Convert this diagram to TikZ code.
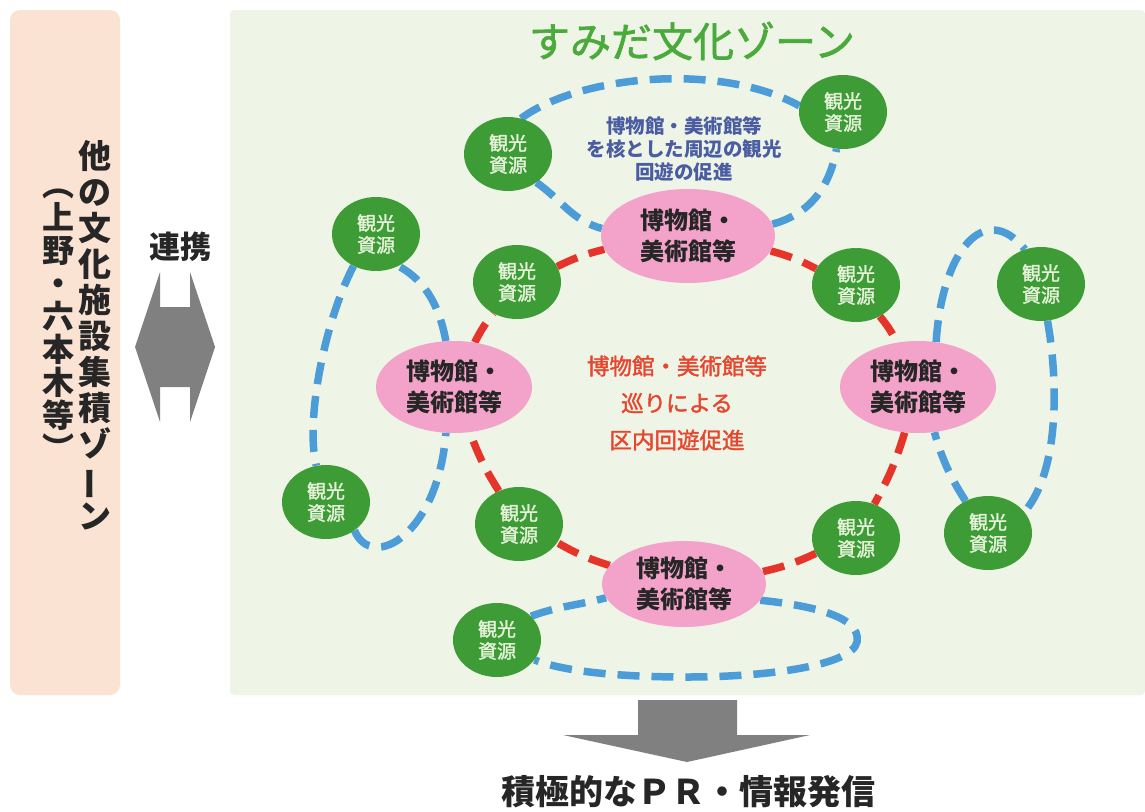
\documentclass[tikz,border=0pt]{standalone}
\usepackage{fontspec}
\setmainfont{Noto Sans CJK JP}
\newfontfamily\jpmed{Noto Sans CJK JP}[FakeBold=1.6]
\usepackage{graphicx}
\usetikzlibrary{shapes.geometric}
\definecolor{peach}{HTML}{FBE3D4}
\definecolor{bggreen}{HTML}{EFF5E6}
\definecolor{cgreen}{HTML}{3E9C37}
\definecolor{cgtext}{HTML}{E6F3DA}
\definecolor{mpink}{HTML}{F3A2C9}
\definecolor{mred}{HTML}{E6342A}
\definecolor{mblue}{HTML}{4C9CD8}
\definecolor{tgreen}{HTML}{4BAA3C}
\definecolor{navy}{HTML}{4A5CA2}
\definecolor{rtext}{HTML}{E8452E}
\definecolor{agray}{HTML}{808080}
\pgfdeclarelayer{bg}
\pgfdeclarelayer{mid}
\pgfsetlayers{bg,mid,main}
\begin{document}
\begin{tikzpicture}[x=1pt,y=1pt,
  pinknode/.style={ellipse, fill=mpink, inner sep=0pt, align=center,
    font=\fontsize{24}{31}\selectfont\bfseries, text=black!85},
  greennode/.style={ellipse, fill=cgreen, minimum width=88pt, minimum height=74pt,
    inner sep=0pt, align=center, font=\fontsize{19}{22}\selectfont\jpmed, text=cgtext},
  reddash/.style={draw=mred, line width=7.5pt, dash pattern=on 22pt off 12pt},
  bluedash/.style={draw=mblue, line width=7.5pt, dash pattern=on 22pt off 12pt},
  vcol/.style={align=center, font=\fontsize{33}{36}\selectfont\bfseries, text=black!85}
]
\useasboundingbox (0,0) rectangle (1145,-811);
\begin{pgfonlayer}{bg}
  \fill[white] (0,0) rectangle (1145,-811);
  \fill[peach, rounded corners=10pt] (10,-10) rectangle (120,-695);
  \fill[bggreen, rounded corners=4pt] (230,-10) rectangle (1145,-695);
\end{pgfonlayer}

% left zone text
\node[vcol] (col1) at (95,-335) {他\\の\\文\\化\\施\\設\\集\\積\\ゾ\\\rotatebox[origin=c]{90}{ー}\\ン};
\node[vcol, font=\fontsize{32}{33}\selectfont\bfseries] (col2) at (58,-325) {︵\\上\\野\\・\\六\\本\\木\\等\\︶};

\node[font=\fontsize{31}{31}\selectfont\bfseries, text=black!85] (renkei) at (180,-247) {連携};
\fill[agray] (135,-347) -- (160,-272) -- (160,-307) -- (190,-307) -- (190,-272)
  -- (215,-347) -- (190,-422) -- (190,-387) -- (160,-387) -- (160,-422) -- cycle;

% title
\node[font=\fontsize{41}{41}\selectfont\jpmed, text=tgreen] (title) at (692,-41) {すみだ文化ゾーン};

% museums
\node[pinknode, minimum width=174pt, minimum height=94pt] (tp) at (688,-236) {博物館・\\美術館等};
\node[pinknode, minimum width=156pt, minimum height=92pt] (lp) at (454,-387) {博物館・\\美術館等};
\node[pinknode, minimum width=156pt, minimum height=92pt] (rp) at (918,-387) {博物館・\\美術館等};
\node[pinknode, minimum width=164pt, minimum height=86pt] (bp) at (684,-584) {博物館・\\美術館等};

% tourism resources
\node[greennode] (kA) at (508,-154) {観光\\資源};
\node[greennode] (kB) at (843,-112) {観光\\資源};
\node[greennode] (kC) at (376,-234) {観光\\資源};
\node[greennode] (kD) at (517,-282) {観光\\資源};
\node[greennode] (kE) at (856,-285) {観光\\資源};
\node[greennode] (kF) at (1041,-284) {観光\\資源};
\node[greennode] (kG) at (326,-502) {観光\\資源};
\node[greennode] (kH) at (519,-524) {観光\\資源};
\node[greennode] (kI) at (856,-538) {観光\\資源};
\node[greennode] (kJ) at (988,-533) {観光\\資源};
\node[greennode] (kK) at (497,-640) {観光\\資源};

% texts
\node[font=\fontsize{19.5}{22.5}\selectfont\bfseries, text=navy, align=center] (navytxt) at (684,-149)
  {博物館・美術館等\\を核とした周辺の観光\\回遊の促進};
\node[font=\fontsize{22.5}{37}\selectfont\jpmed, text=rtext, align=center] (redtxt) at (677,-403)
  {博物館・美術館等\\巡りによる\\区内回遊促進};

% bottom arrow and text
\fill[agray] (638,-700) -- (737,-700) -- (737,-735) -- (810,-735) -- (687,-762)
  -- (563,-735) -- (638,-735) -- cycle;
\node[font=\fontsize{34}{34}\selectfont\bfseries, text=black!85] (pr) at (688,-792) {積極的なＰＲ・情報発信};

\begin{pgfonlayer}{mid}
  % red loop
  \draw[reddash] (tp) to[bend left=6] (kE);
  \draw[reddash] (kE) to[bend left=6] (rp);
  \draw[reddash] (rp) to[bend left=6] (kI);
  \draw[reddash] (kI) to[bend left=6] (bp);
  \draw[reddash] (bp) to[bend left=6] (kH);
  \draw[reddash] (kH) to[bend left=6] (lp);
  \draw[reddash] (lp) to[bend left=6] (kD);
  \draw[reddash] (kD) to[bend left=6] (tp);
  % blue loop top
  \draw[bluedash] (kA.-45) to[out=-35,in=165] (tp.175);
  \draw[bluedash] (tp.8) to[out=15,in=-100] (kB.-100);
  \draw[bluedash] (kA.70) .. controls (580,-75) and (720,-62) .. (kB.172);
  % blue loop left
  \draw[bluedash] (kC.235) .. controls (325,-320) and (305,-420) .. (kG.105);
  \draw[bluedash] (kG.-45) .. controls (372,-572) and (438,-535) .. (lp.-100);
  \draw[bluedash] (lp.100) .. controls (440,-310) and (428,-282) .. (kC.-55);
  % blue loop right
  \draw[bluedash] (rp.68) .. controls (942,-250) and (985,-200) .. (kF.115);
  \draw[bluedash] (kF.-80) .. controls (1058,-380) and (1060,-470) .. (kJ.30);
  \draw[bluedash] (kJ.125) .. controls (952,-480) and (942,-460) .. (rp.-70);
  % blue loop bottom
  \draw[bluedash] (kK.35) to[out=20,in=195] (bp.190);
  \draw[bluedash] (bp.-12) .. controls (805,-605) and (862,-615) .. (857,-642)
     .. controls (852,-665) and (770,-677) .. (687,-677)
     .. controls (610,-677) and (560,-670) .. (kK.-28);
\end{pgfonlayer}
\end{tikzpicture}
\end{document}
